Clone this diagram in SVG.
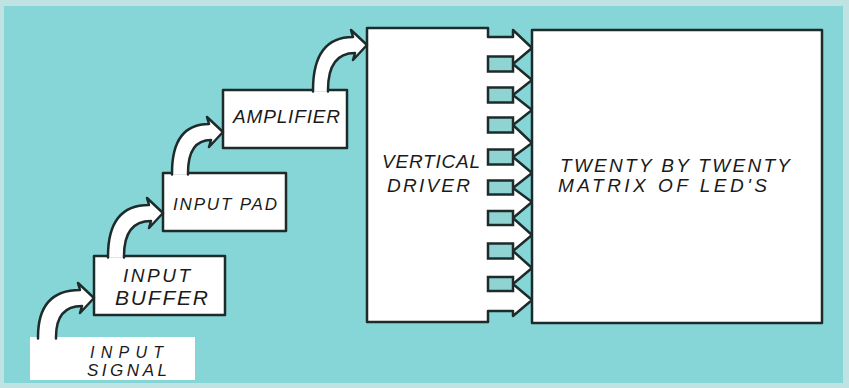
<svg xmlns="http://www.w3.org/2000/svg" width="849" height="388" viewBox="0 0 849 388">
<defs>
<style>
.box{fill:#ffffff;stroke:#1e2b2b;stroke-width:2.5;stroke-linejoin:round}
.tab{fill:#8fd3d3;stroke:#1e2b2b;stroke-width:2.5}
.arr{fill:#ffffff;stroke:#1e2b2b;stroke-width:2.5;stroke-linejoin:round;stroke-linecap:round}
.lbl{font-family:"Liberation Sans",Arial,sans-serif;font-style:italic;fill:#1a1a1a;font-weight:normal}
</style>
</defs>
<rect x="0" y="0" width="849" height="388" fill="#bfe3e3"/>
<rect x="4" y="6" width="839" height="377" fill="#86d6d8"/>

<g id="input-signal">
<rect x="30" y="337" width="165" height="43" fill="#ffffff"/>
<text class="lbl" x="90" y="358" font-size="16" textLength="73" lengthAdjust="spacing">INPUT</text>
<text class="lbl" x="87" y="376" font-size="17" textLength="80" lengthAdjust="spacing">SIGNAL</text>
</g>

<g id="input-buffer">
<rect class="box" x="94" y="256" width="131" height="59"/>
<text class="lbl" x="123" y="282" font-size="19" textLength="67" lengthAdjust="spacing">INPUT</text>
<text class="lbl" x="115" y="305" font-size="21" textLength="93" lengthAdjust="spacing">BUFFER</text>
</g>

<g id="input-pad">
<rect class="box" x="163" y="173" width="123" height="58"/>
<text class="lbl" x="173" y="210" font-size="17" textLength="104" lengthAdjust="spacing">INPUT PAD</text>
</g>

<g id="amplifier">
<rect class="box" x="223" y="90" width="124" height="58"/>
<text class="lbl" x="233" y="123" font-size="19" textLength="107" lengthAdjust="spacing">AMPLIFIER</text>
</g>

<g id="vertical-driver">
<path class="box" d="M367,28 H488 V37 H513 V30 L532,48 L513,64 L532,80 L513,95 L532,110 L513,125 L532,143 L513,157 L532,173 L513,188 L532,202 L513,218 L532,235 L513,251 L532,268 L513,284 L532,300 L513,316 V311 H488 V322 H367 Z"/>
<rect class="tab" x="488" y="56.5" width="25" height="15"/>
<rect class="tab" x="488" y="87.5" width="25" height="15"/>
<rect class="tab" x="488" y="117.5" width="25" height="15"/>
<rect class="tab" x="488" y="149.5" width="25" height="15"/>
<rect class="tab" x="488" y="180.5" width="25" height="14"/>
<rect class="tab" x="488" y="211" width="25" height="14"/>
<rect class="tab" x="488" y="243.5" width="25" height="15"/>
<rect class="tab" x="488" y="277" width="25" height="14"/>
<text class="lbl" x="382" y="168" font-size="19" textLength="98" lengthAdjust="spacing">VERTICAL</text>
<text class="lbl" x="387" y="192" font-size="19" textLength="83" lengthAdjust="spacing">DRIVER</text>
</g>

<g id="led-matrix">
<rect class="box" x="532" y="30" width="290" height="293"/>
<text class="lbl" x="560" y="172" font-size="19" textLength="230" lengthAdjust="spacing">TWENTY BY TWENTY</text>
<text class="lbl" x="558" y="192" font-size="19" textLength="209" lengthAdjust="spacing">MATRIX OF LED'S</text>
</g>

<g id="connectors">
<path class="arr" d="M38,338.5 L38,337 Q38,290 80,290 L78,283 L94,298 L80,313 L82,306 Q56,306 56,337 L56,338.5"/>
<path class="arr" d="M108,257.5 L108,256 Q108,205 149,205 L147,198 L163,213 L149,228 L151,221 Q124,221 124,256 L124,257.5"/>
<path class="arr" d="M172,174.5 L172,173 Q172,124 209,124 L207,117 L223,132 L209,147 L211,140 Q188,140 188,173 L188,174.5"/>
<path class="arr" d="M313,91.5 L313,90 Q313,37 353,37 L351,30 L367,45 L353,60 L355,53 Q328,53 328,90 L328,91.5"/>
</g>
</svg>
